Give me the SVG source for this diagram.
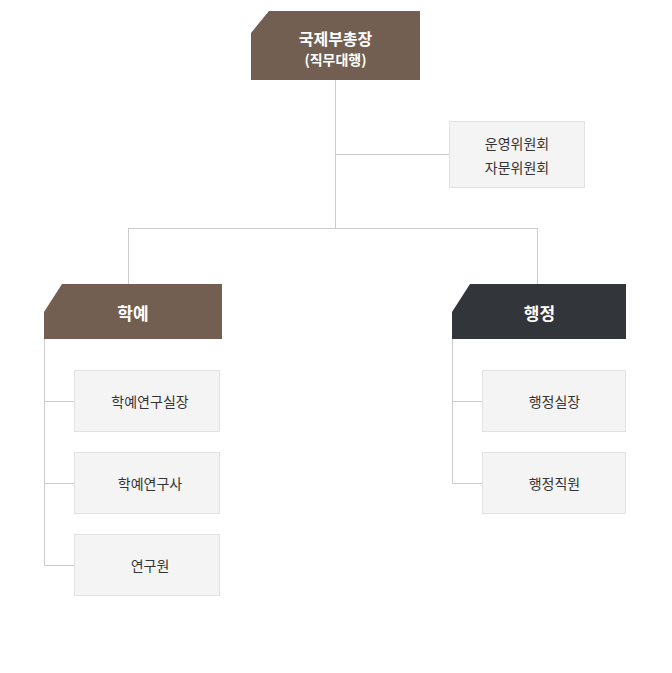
<svg xmlns="http://www.w3.org/2000/svg" width="672" height="673" viewBox="0 0 672 673">
<style>
.t{font-family:"Noto Sans CJK KR","Noto Sans",sans-serif;}
.h{font-weight:bold;fill:#fff;text-anchor:middle;dominant-baseline:central;}
.b{fill:#333;font-size:14px;text-anchor:middle;dominant-baseline:central;}
.box{fill:#f4f4f4;stroke:#e2e2e2;stroke-width:1;}
.ln{stroke:#cccccc;stroke-width:1;fill:none;}
</style>
<rect width="672" height="673" fill="#fff"/>
<g id="connectors">
<path class="ln" d="M335.5 80V228M335.5 154.5H449M128.5 228.5H537.5M128.5 228V284M537.5 228V284"/>
<path class="ln" d="M44.5 339V565.5M44.5 401.5H74M44.5 483.5H74M44.5 565.5H74"/>
<path class="ln" d="M452.5 339V483.5M452.5 401.5H482M452.5 483.5H482"/>
</g>
<g id="node-top">
<path d="M269 11H420V80H251V33Z" fill="#725f51"/>
<text class="t h" x="335.5" y="38" font-size="16">국제부총장</text>
<text class="t h" x="335.5" y="59" font-size="14">(직무대행)</text>
</g>
<g id="node-committee">
<rect class="box" x="449.5" y="121.5" width="135" height="66"/>
<text class="t b" x="517" y="143">운영위원회</text>
<text class="t b" x="517" y="167">자문위원회</text>
</g>
<g id="node-hakye">
<path d="M62 284H222V339H44V312Z" fill="#725f51"/>
<text class="t h" x="133" y="312" font-size="17">학예</text>
</g>
<g id="node-haengjeong">
<path d="M470 284H626V339H452V312Z" fill="#32363a"/>
<text class="t h" x="539.5" y="312" font-size="17">행정</text>
</g>
<g id="node-h1">
<rect class="box" x="74.5" y="370.5" width="145" height="61"/>
<text class="t b" x="150" y="401">학예연구실장</text>
</g>
<g id="node-h2">
<rect class="box" x="74.5" y="452.5" width="145" height="61"/>
<text class="t b" x="150" y="483">학예연구사</text>
</g>
<g id="node-h3">
<rect class="box" x="74.5" y="534.5" width="145" height="61"/>
<text class="t b" x="150" y="565">연구원</text>
</g>
<g id="node-a1">
<rect class="box" x="482.5" y="370.5" width="143" height="61"/>
<text class="t b" x="554.5" y="401">행정실장</text>
</g>
<g id="node-a2">
<rect class="box" x="482.5" y="452.5" width="143" height="61"/>
<text class="t b" x="554.5" y="483">행정직원</text>
</g>
</svg>
